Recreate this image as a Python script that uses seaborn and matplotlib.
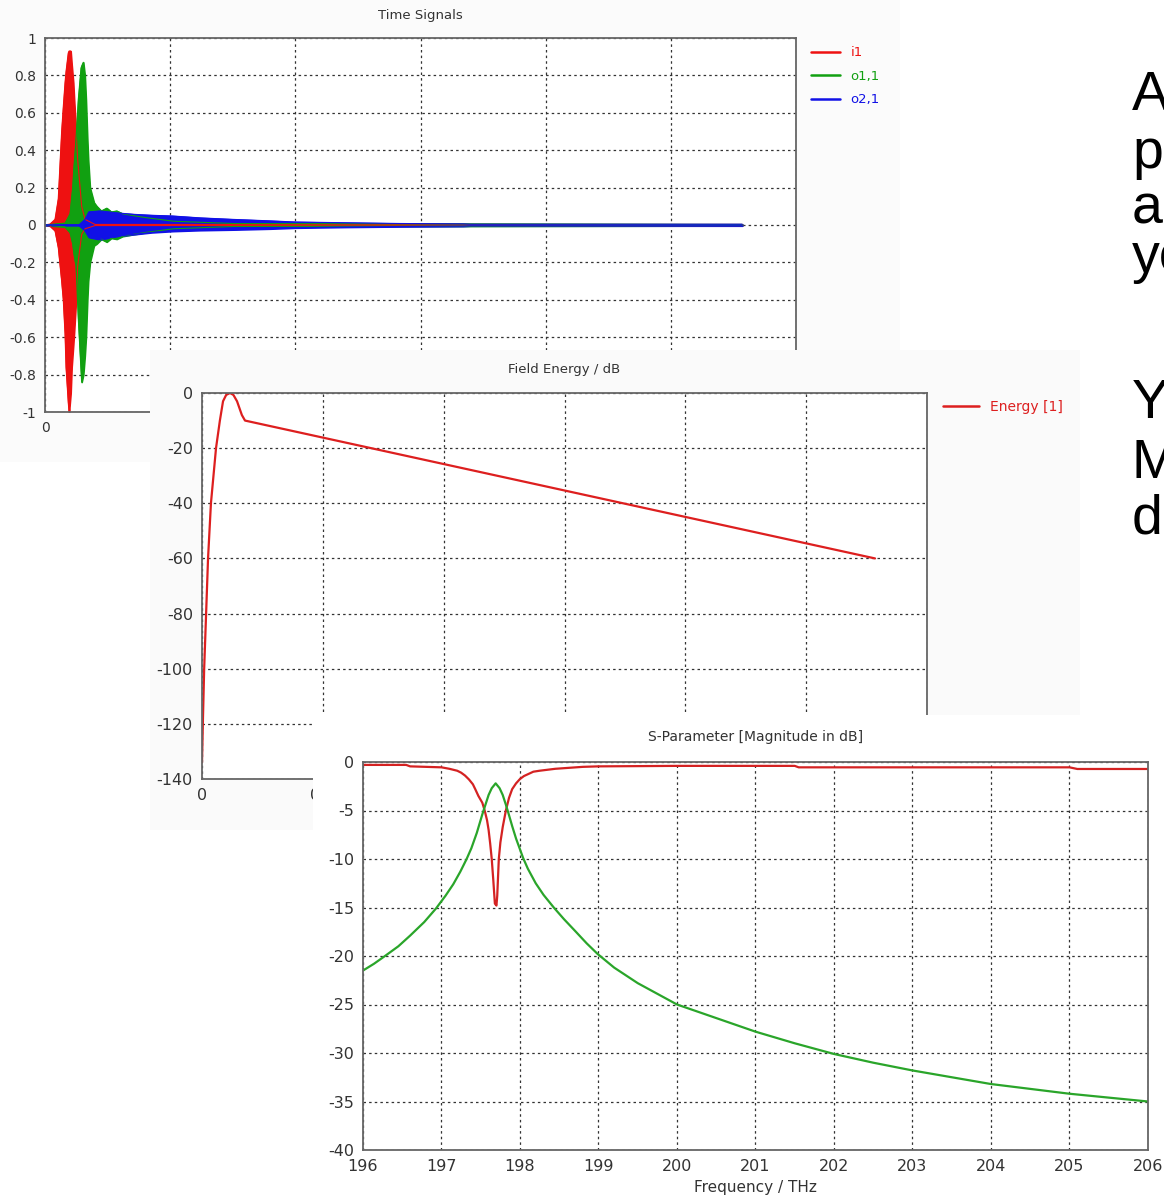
import matplotlib
matplotlib.use("Agg")
import matplotlib.pyplot as plt
from matplotlib.lines import Line2D
import seaborn as sns

W, H = 1164, 1203

# ---- Time Signals: envelopes of the three signals (time in arbitrary grid units) ----
t_i1 = [0.0, 0.04, 0.08, 0.106, 0.133, 0.146, 0.16, 0.168, 0.186, 0.192, 0.205, 0.213, 0.226, 0.232,
        0.248, 0.261, 0.293, 0.32, 0.40, 5.57]
i1_upper = [0.0, 0.005, 0.03, 0.14, 0.5, 0.63, 0.76, 0.82, 0.92, 0.93, 0.93, 0.86, 0.76, 0.68,
            0.5, 0.35, 0.1, 0.03, 0.003, 0.003]
i1_lower = [0.0, -0.005, -0.03, -0.12, -0.3, -0.4, -0.58, -0.76, -0.95, -1.0, -0.9, -0.76, -0.64, -0.58,
            -0.4, -0.22, -0.05, -0.02, -0.003, -0.003]

t_o11 = [0.0, 0.16, 0.2, 0.221, 0.23, 0.248, 0.266, 0.288, 0.293, 0.306, 0.318, 0.327, 0.338, 0.345,
         0.359, 0.391, 0.413, 0.45, 0.493, 0.53, 0.573, 0.62, 0.706, 0.8, 1.03, 1.5, 5.57]
o11_upper = [0.0, 0.01, 0.06, 0.2, 0.3, 0.46, 0.67, 0.84, 0.85, 0.87, 0.8, 0.67, 0.46, 0.35,
             0.2, 0.12, 0.1, 0.075, 0.09, 0.07, 0.075, 0.06, 0.05, 0.04, 0.02, 0.008, 0.003]
o11_lower = [0.0, -0.01, -0.04, -0.1, -0.15, -0.22, -0.5, -0.78, -0.84, -0.8, -0.7, -0.6, -0.4, -0.3,
             -0.2, -0.11, -0.1, -0.075, -0.09, -0.07, -0.075, -0.06, -0.05, -0.04, -0.02, -0.008, -0.003]

t_o21 = [0.0, 0.27, 0.32, 0.35, 0.44, 0.57, 0.71, 0.85, 1.02, 1.24, 1.5, 1.8, 2.0, 2.4, 2.84, 3.34, 3.40, 5.57]
o21_upper = [0.0, 0.0, 0.03, 0.07, 0.075, 0.065, 0.057, 0.052, 0.048, 0.038, 0.03, 0.022, 0.016,
             0.012, 0.008, 0.006, 0.004, 0.004]
o21_lower = [0.0, 0.0, -0.03, -0.065, -0.077, -0.06, -0.05, -0.04, -0.033, -0.028, -0.025, -0.02, -0.015,
             -0.011, -0.008, -0.006, -0.004, -0.004]

time_yticks = [-1, -0.8, -0.6, -0.4, -0.2, 0, 0.2, 0.4, 0.6, 0.8, 1]
time_ylabels = ["-1", "-0.8", "-0.6", "-0.4", "-0.2", "0", "0.2", "0.4", "0.6", "0.8", "1"]

# ---- Field Energy / dB ----
energy_t = [0.0, 0.004, 0.009, 0.017, 0.025, 0.037, 0.058, 0.074, 0.087, 0.100, 0.116,
            0.130, 0.145, 0.165, 0.178, 2.785]
energy_db = [-134, -118, -100, -80, -60, -40, -20, -10, -3, -0.7, 0, -0.7, -3, -8, -10, -60]
energy_xticks = [0, 0.5, 1.0, 1.5, 2.0, 2.5, 3.0]
energy_xlabels = ["0", "0.5", "1", "1.5", "2", "2.5", "3"]
energy_yticks = [-140, -120, -100, -80, -60, -40, -20, 0]

# ---- S-Parameter [Magnitude in dB] ----
s11_f = [196.0, 196.55, 196.6, 197.0, 197.1, 197.2, 197.25, 197.3, 197.35, 197.4, 197.43, 197.47,
         197.52, 197.55, 197.58, 197.6, 197.62, 197.64, 197.66, 197.68, 197.7, 197.71, 197.73, 197.75,
         197.78, 197.82, 197.86, 197.9, 197.95, 198.0, 198.05, 198.17, 198.25, 198.45, 198.8, 199.0,
         200.0, 201.5, 201.55, 205.0, 205.1, 206.0]
s11_db = [-0.3, -0.3, -0.45, -0.55, -0.7, -0.9, -1.1, -1.4, -1.8, -2.3, -2.8, -3.5,
          -4.2, -5.0, -6.0, -7.0, -8.4, -10.0, -12.2, -14.6, -14.8, -13.8, -10.0, -8.3,
          -6.7, -5.0, -3.7, -2.8, -2.2, -1.75, -1.45, -1.0, -0.9, -0.7, -0.5, -0.45,
          -0.4, -0.4, -0.55, -0.55, -0.72, -0.72]

s21_f = [196.0, 196.14, 196.28, 196.45, 196.6, 196.78, 196.93, 197.05, 197.15, 197.24, 197.32, 197.38,
         197.45, 197.52, 197.56, 197.6, 197.64, 197.69, 197.74, 197.78, 197.82, 197.85, 197.9, 197.95,
         198.04, 198.1, 198.2, 198.3, 198.43, 198.56, 198.7, 198.85, 198.99, 199.2, 199.5, 199.75,
         200.0, 200.5, 201.0, 201.5, 202.0, 202.5, 203.0, 203.5, 204.0, 204.5, 205.0, 205.5, 206.0]
s21_db = [-21.5, -20.8, -20.0, -19.0, -17.9, -16.5, -15.1, -13.8, -12.6, -11.3, -10.0, -8.9,
          -7.3, -5.4, -4.4, -3.4, -2.7, -2.2, -2.7, -3.4, -4.4, -5.2, -6.6, -7.9,
          -9.9, -11.0, -12.5, -13.7, -15.0, -16.2, -17.4, -18.7, -19.8, -21.2, -22.8, -23.9,
          -25.0, -26.4, -27.8, -29.0, -30.1, -31.0, -31.8, -32.5, -33.2, -33.7, -34.2, -34.6, -35.0]
s_xticks = [196, 197, 198, 199, 200, 201, 202, 203, 204, 205, 206]
s_yticks = [-40, -35, -30, -25, -20, -15, -10, -5, 0]

# slide text cut off at the right edge
side_text = ["A", "p", "an", "yo", "Y", "M", "d"]
side_base = [110, 168, 224, 272, 418, 478, 534]

RED, GREEN, BLUE = "#ee1111", "#11a011", "#1111e6"

sns.set_style("white")
plt.rcParams["font.family"] = ["DejaVu Sans"]

fig = plt.figure(figsize=(W / 100, H / 100), dpi=100)
fig.patch.set_facecolor("white")


def place(l, t, r, b, z):
    ax = fig.add_axes([l / W, 1 - b / H, (r - l) / W, (b - t) / H])
    ax.set_zorder(z)
    return ax


def panel(l, t, r, b, z, color):
    ax = place(l, t, r, b, z)
    ax.set_facecolor(color)
    ax.set_xticks([])
    ax.set_yticks([])
    for s in ax.spines.values():
        s.set_visible(False)
    return ax


def style(ax, fs):
    ax.set_facecolor("white")
    ax.set_axisbelow(True)
    ax.grid(True, color="#333333", linestyle=(0, (2, 2.5)), linewidth=0.9)
    for s in ax.spines.values():
        s.set_visible(True)
        s.set_color("#666666")
        s.set_linewidth(1.3)
    ax.tick_params(direction="inout", length=7, width=1, colors="#444444",
                   labelsize=fs, labelcolor="#333333", pad=3)
    ax.set_xlabel("")
    ax.set_ylabel("")


# ---------- panel 1 : Time Signals ----------
panel(0, 0, 900, 462, 0, "#fbfbfb")
ax1 = place(45, 38, 796, 412, 1)
for t, lo, up, c in [(t_i1, i1_lower, i1_upper, RED),
                     (t_o11, o11_lower, o11_upper, GREEN),
                     (t_o21, o21_lower, o21_upper, BLUE)]:
    ax1.fill_between(t, lo, up, color=c, linewidth=1.2, edgecolor=c)
    sns.lineplot(x=t, y=up, ax=ax1, color=c, linewidth=0.8, estimator=None)
    sns.lineplot(x=t, y=lo, ax=ax1, color=c, linewidth=0.8, estimator=None)
ax1.set_xlim(0, 6)
ax1.set_ylim(-1, 1)
ax1.set_xticks(range(7))
ax1.set_xticklabels(["0", "", "", "", "", "", ""])
ax1.set_yticks(time_yticks)
ax1.set_yticklabels(time_ylabels)
style(ax1, 10)
ax1.text(0.5, 1 + 23 / 374, "Time Signals", transform=ax1.transAxes, ha="center", va="center",
         fontsize=9.5, color="#333333")
handles = [Line2D([], [], color=c, linewidth=1.8) for c in (RED, GREEN, BLUE)]
leg = ax1.legend(handles, ["i1", "o1,1", "o2,1"], loc="upper left", bbox_to_anchor=(1.02, 0.978),
                 frameon=False, fontsize=9.5, handlelength=2.2, handletextpad=0.8,
                 labelspacing=0.8, borderpad=0, borderaxespad=0)
for txt, c in zip(leg.get_texts(), (RED, GREEN, BLUE)):
    txt.set_color(c)

# ---------- panel 2 : Field Energy ----------
panel(150, 350, 1080, 830, 2, "#fafafa")
ax2 = place(202, 393, 927, 779, 3)
sns.lineplot(x=energy_t, y=energy_db, ax=ax2, color="#dd1f1f", linewidth=1.6, estimator=None)
ax2.set_xlim(0, 3)
ax2.set_ylim(-140, 0)
ax2.set_xticks(energy_xticks)
ax2.set_xticklabels(energy_xlabels)
ax2.set_yticks(energy_yticks)
ax2.set_yticklabels([str(v) for v in energy_yticks])
style(ax2, 11.5)
ax2.text(0.5, 1 + 24 / 386, "Field Energy / dB", transform=ax2.transAxes, ha="center", va="center",
         fontsize=9.5, color="#333333")
leg2 = ax2.legend([Line2D([], [], color="#dd1f1f", linewidth=1.8)], ["Energy [1]"], loc="upper left",
                  bbox_to_anchor=(1.022, 0.982), frameon=False, fontsize=10, handlelength=2.6,
                  handletextpad=0.8, borderpad=0, borderaxespad=0)
leg2.get_texts()[0].set_color("#dd1f1f")

# ---------- panel 3 : S-Parameter ----------
panel(313, 715, 1164, 1203, 4, "white")
ax3 = place(363, 762, 1148, 1150, 5)
sns.lineplot(x=s11_f, y=s11_db, ax=ax3, color="#d42222", linewidth=1.6, estimator=None)
sns.lineplot(x=s21_f, y=s21_db, ax=ax3, color="#2aa52a", linewidth=1.6, estimator=None)
ax3.set_xlim(196, 206)
ax3.set_ylim(-40, 0)
ax3.set_xticks(s_xticks)
ax3.set_xticklabels([str(v) for v in s_xticks])
ax3.set_yticks(s_yticks)
ax3.set_yticklabels([str(v) for v in s_yticks])
style(ax3, 11.5)
ax3.text(0.5, 1 + 25 / 388, "S-Parameter [Magnitude in dB]", transform=ax3.transAxes, ha="center",
         va="center", fontsize=10, color="#333333")
ax3.set_xlabel("Frequency / THz", fontsize=11, color="#333333", labelpad=4)

# ---------- slide text on the right ----------
for s, yb in zip(side_text, side_base):
    fig.text(1132 / W, 1 - yb / H, s, fontsize=40, family=["Liberation Sans", "DejaVu Sans"],
             ha="left", va="baseline", color="black", zorder=10)

fig.savefig("out.png", dpi=100)
